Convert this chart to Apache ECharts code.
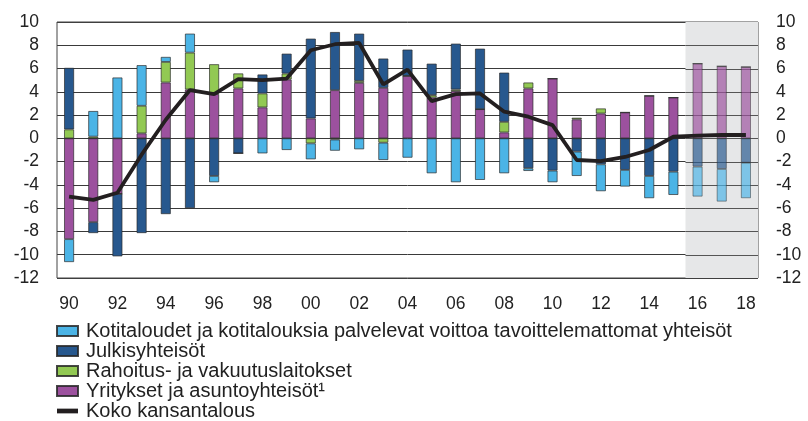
<!DOCTYPE html>
<html>
<head>
<meta charset="utf-8">
<script src="https://cdn.jsdelivr.net/npm/echarts@6/dist/echarts.min.js"></script>
<style>
html,body{margin:0;padding:0;background:#fff;}
#chart{width:808px;height:421px;}
</style>
</head>
<body>
<div id="chart"></div>
<script>
var years = [1990,1991,1992,1993,1994,1995,1996,1997,1998,1999,2000,2001,2002,2003,2004,2005,2006,2007,2008,2009,2010,2011,2012,2013,2014,2015,2016,2017,2018];
var forecastFrom = 2016;

var yritykset = [-8.66,-7.2,-4.77,0.43,4.8,4.2,3.8,4.29,2.66,5.06,1.71,4.14,4.77,4.34,5.37,3.51,4.06,2.51,0.51,4.29,5.14,1.63,2.14,2.23,3.66,3.51,6.43,6.2,6.14];
var rahoitus = [0.77,0.15,0,2.37,1.77,3.17,2.57,1.29,1.2,0.51,-0.43,-0.1,0.17,-0.37,0,0.2,0.14,0,0.91,0.51,0,0.14,0.43,0,0,0,0,0,0];
var julkis = [5.29,-0.94,-5.37,-8.14,-6.51,-6.0,-3.23,-1.29,1.63,1.71,6.86,5.0,4.06,2.52,2.26,2.71,3.94,5.2,4.23,-2.57,-2.77,-1.14,-2.23,-2.71,-3.23,-2.86,-2.43,-2.63,-2.09];
var kotitalous = [-1.97,2.2,5.23,3.49,0.43,1.63,-0.54,0,-1.29,-1.0,-1.37,-0.96,-0.94,-1.49,-1.66,-3.0,-3.77,-3.57,-3.0,-0.23,-1.0,-2.09,-2.31,-1.43,-1.91,-2.0,-2.57,-2.8,-3.05];
var koko = [-5.0,-5.29,-4.67,-1.4,1.6,4.15,3.8,5.09,5.0,5.14,7.57,8.09,8.2,4.63,5.91,3.2,3.8,3.86,2.29,1.86,1.14,-1.86,-1.95,-1.6,-1.0,0.14,0.23,0.29,0.29];

var yTicks = {min:-12, max:10, interval:2};
var gridValues = [-10,-8,-6,-4,-2,0,2,4,6,8];

var names = {
  koti: 'Kotitaloudet ja kotitalouksia palvelevat voittoa tavoittelemattomat yhteisöt',
  julk: 'Julkisyhteisöt',
  raho: 'Rahoitus- ja vakuutuslaitokset',
  yrit: 'Yritykset ja asuntoyhteisöt¹',
  koko: 'Koko kansantalous'
};

var chart = echarts.init(document.getElementById('chart'));
var font = '"Liberation Sans", Arial, sans-serif';

function barData(arr){
  return arr.map(function(v,i){
    if (years[i] >= forecastFrom) return {value:v, itemStyle:{opacity:0.68}};
    return v;
  });
}
function barSeries(name, arr, color){
  return {
    name:name, type:'bar', stack:'s', data:barData(arr), barWidth:10,
    itemStyle:{color:color, borderColor:'rgba(40,40,40,0.85)', borderWidth:0.8},
    z:3
  };
}

var fcStart = forecastFrom - 0.5, fcEnd = years[years.length-1] + 0.5;

function renderShade(params, api){
  var p0 = api.coord([api.value(0), yTicks.max]);
  var p1 = api.coord([api.value(1), yTicks.min]);
  var children = [{
    type:'rect', z2:0,
    shape:{x:p0[0], y:p0[1], width:p1[0]-p0[0], height:p1[1]-p0[1]},
    style:{fill:'#e6e7e8'}
  }];
  gridValues.forEach(function(v){
    var a = api.coord([api.value(0), v]);
    var b = api.coord([api.value(1), v]);
    var y = Math.round(a[1]) + 0.5;
    children.push({type:'line', z2:1, shape:{x1:a[0], y1:y, x2:b[0], y2:y},
      style:{stroke:'#555', lineWidth:1}});
  });
  return {type:'group', children:children};
}

var option = {
  animation:false,
  backgroundColor:'#fff',
  textStyle:{fontFamily:font},
  grid:{left:57, right:50, top:22, bottom:143, show:true, borderColor:'#444', borderWidth:1, backgroundColor:'transparent', z:1},
  legend:{
    orient:'vertical', left:56, top:321, padding:0, itemWidth:21, itemHeight:10, itemGap:0,
    height:100, icon:'rect',
    textStyle:{fontFamily:font, fontSize:20, color:'#222', lineHeight:18.5, padding:[0,0,0,3]},
    data:[
      {name:names.koti}, {name:names.julk}, {name:names.raho}, {name:names.yrit},
      {name:names.koko, icon:'path://M0,0L16,0L16,3.6L0,3.6Z', itemStyle:{color:'#231f20', borderWidth:0}}
    ]
  },
  xAxis:[{
    type:'category', data:years, boundaryGap:true,
    axisLine:{show:false}, axisTick:{show:false},
    axisLabel:{interval:1, margin:17, fontSize:17.5, color:'#222', fontFamily:font,
      formatter:function(v){var s=String(v%100); return s.length<2?'0'+s:s;}}
  },{
    type:'value', min:years[0]-0.5, max:years[years.length-1]+0.5, show:false
  }],
  yAxis:[{
    type:'value', position:'left', min:yTicks.min, max:yTicks.max, interval:yTicks.interval,
    axisLine:{show:false}, axisTick:{show:false},
    axisLabel:{margin:18, fontSize:17.5, color:'#222', fontFamily:font},
    splitLine:{show:true, lineStyle:{color:'#3a3a3a', width:1}}
  },{
    type:'value', position:'right', min:yTicks.min, max:yTicks.max, interval:yTicks.interval,
    axisLine:{show:false}, axisTick:{show:false},
    axisLabel:{margin:18, fontSize:17.5, color:'#222', fontFamily:font},
    splitLine:{show:false}
  }],
  series:[
    {
      name:'forecast', type:'custom', xAxisIndex:1, yAxisIndex:0, silent:true, z:1,
      renderItem:renderShade, data:[[fcStart, fcEnd]], encode:{x:[0,1]}, clip:true
    },
    barSeries(names.yrit, yritykset, '#9c519e'),
    barSeries(names.raho, rahoitus, '#92c953'),
    barSeries(names.julk, julkis, '#27588e'),
    barSeries(names.koti, kotitalous, '#4bb4e6'),
    {
      name:names.koko, type:'line', data:koko, symbol:'none', z:5,
      lineStyle:{color:'#231f20', width:3.8}, itemStyle:{color:'#231f20'}
    }
  ]
};
chart.setOption(option);
</script>
</body>
</html>
